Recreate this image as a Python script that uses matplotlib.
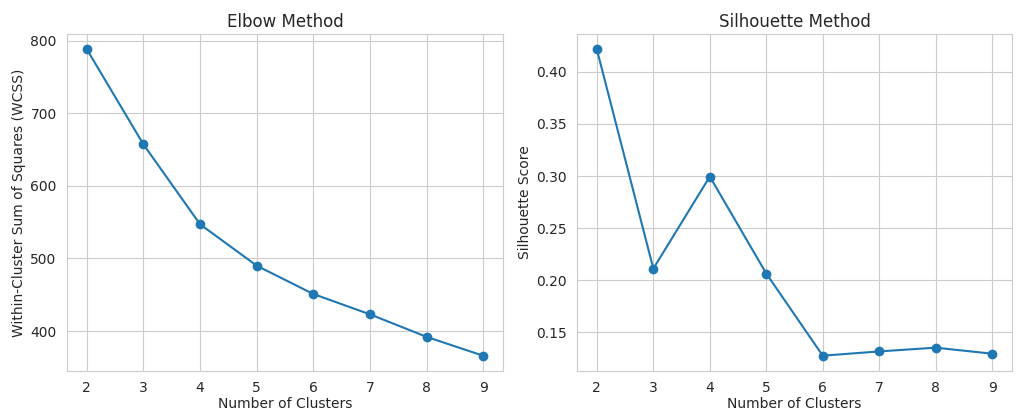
import matplotlib
matplotlib.use("Agg")
import matplotlib.pyplot as plt
import seaborn as sns

clusters = [2, 3, 4, 5, 6, 7, 8, 9]
wcss = [788, 657, 547, 490, 451, 423, 392, 366]
silhouette = [0.4215, 0.2112, 0.2995, 0.2065, 0.1277, 0.1318, 0.1354, 0.1296]

sns.set_style("whitegrid")
plt.rcParams['font.family'] = ['DejaVu Sans']

fig = plt.figure(figsize=(10.16, 4.15), dpi=100)
ax1 = fig.add_axes([0.066, 0.106, 0.429, 0.812])
ax2 = fig.add_axes([0.568, 0.106, 0.428, 0.812])

for ax, y, title, ylabel in [
    (ax1, wcss, "Elbow Method", "Within-Cluster Sum of Squares (WCSS)"),
    (ax2, silhouette, "Silhouette Method", "Silhouette Score"),
]:
    ax.plot(clusters, y, marker='o', color='#1f77b4', linewidth=1.5, markersize=6)
    ax.set_title(title, fontsize=12, color='.15', pad=5)
    ax.set_xlabel("Number of Clusters", fontsize=10, color='.15', labelpad=1)
    ax.set_ylabel(ylabel, fontsize=10, color='.15', labelpad=3)
    ax.tick_params(labelsize=10, colors='.15', pad=4)
    ax.set_xticks(clusters)

ax1.set_yticks([400, 500, 600, 700, 800])
ax2.set_yticks([0.15, 0.20, 0.25, 0.30, 0.35, 0.40])

fig.savefig("out.png", dpi=100)
